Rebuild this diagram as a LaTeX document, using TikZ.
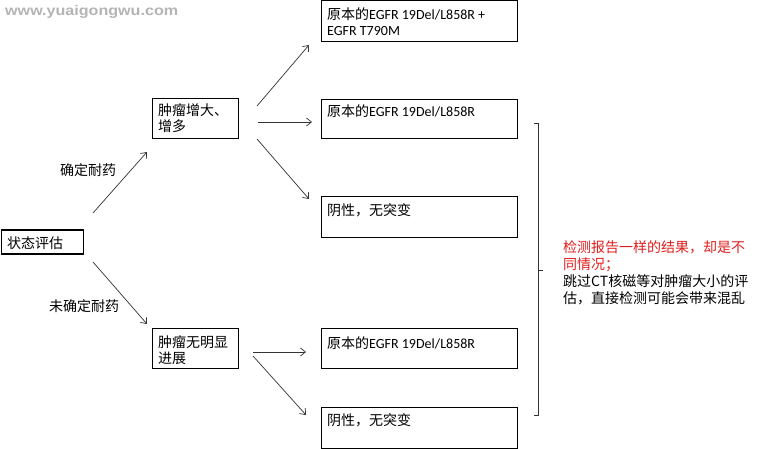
\documentclass[tikz,border=0pt]{standalone}
\usepackage{fontspec}
\setmainfont{Noto Sans CJK SC}
\newfontfamily\wmfont{Liberation Sans Bold}
\newfontfamily\latn{Carlito}
\usetikzlibrary{arrows.meta}
\definecolor{redtxt}{RGB}{225,30,30}
\definecolor{wmgray}{RGB}{180,180,180}
\begin{document}
\begin{tikzpicture}[x=1pt,y=-1pt,
  box/.style={draw=black, line width=0.8pt, inner sep=0pt, anchor=north west},
  txt/.style={inner sep=0pt, anchor=north west, align=left, font=\fontsize{14}{16.5}\selectfont},
  arr/.style={draw=black!80, line width=0.7pt, -{Straight Barb[length=5pt,width=8pt]}},
  brace/.style={draw=black!80, line width=0.7pt}]
\useasboundingbox (0,0) rectangle (761,449);
% watermark
\node[inner sep=0pt, anchor=west, text=wmgray] (wm) at (5,11.5)
  {\scalebox{1.15}[1]{\wmfont\fontsize{14}{14}\selectfont www.yuaigongwu.com}};
% boxes
\node[box, line width=1.6pt, minimum width=82pt, minimum height=24pt] (s) at (0.8,229) {};
\node[box, minimum width=86pt, minimum height=40pt] (m1) at (152,98) {};
\node[box, minimum width=86pt, minimum height=40pt] (m2) at (152,328) {};
\node[box, minimum width=196pt, minimum height=40.5pt] (r1) at (321,0.5) {};
\node[box, minimum width=196pt, minimum height=39pt] (r2) at (321,99) {};
\node[box, minimum width=196pt, minimum height=41pt] (r3) at (321,196) {};
\node[box, minimum width=196pt, minimum height=40pt] (r4) at (321,328) {};
\node[box, minimum width=196pt, minimum height=41pt] (r5) at (321,407) {};
% box texts
\node[txt] (st) at (7,236) {状态评估};
\node[txt] (m1t) at (158,103) {肿瘤增大、\\增多};
\node[txt] (m2t) at (158,335) {肿瘤无明显\\进展};
\node[txt] (r1t) at (327,7) {原本的{\latn EGFR 19Del/L858R +}\\{\latn EGFR T790M}};
\node[txt] (r2t) at (327,104) {原本的{\latn EGFR 19Del/L858R}};
\node[txt] (r3t) at (327,203) {阴性，无突变};
\node[txt] (r4t) at (327,336) {原本的{\latn EGFR 19Del/L858R}};
\node[txt] (r5t) at (327,413) {阴性，无突变};
% labels
\node[txt] (l1) at (60,163) {确定耐药};
\node[txt] (l2) at (49,299) {未确定耐药};
% arrows
\coordinate (a1s) at (93,213); \coordinate (a1e) at (147,152);
\coordinate (a2s) at (93,262); \coordinate (a2e) at (147,324);
\coordinate (b1s) at (257,106); \coordinate (b1e) at (309,45);
\coordinate (b2s) at (258,122); \coordinate (b2e) at (312,122);
\coordinate (b3s) at (257,139); \coordinate (b3e) at (309,199);
\coordinate (c1s) at (253,352); \coordinate (c1e) at (306,352);
\coordinate (c2s) at (253,356); \coordinate (c2e) at (306,415);
\draw[arr] (a1s) -- (a1e);
\draw[arr] (a2s) -- (a2e);
\draw[arr] (b1s) -- (b1e);
\draw[arr] (b2s) -- (b2e);
\draw[arr] (b3s) -- (b3e);
\draw[arr] (c1s) -- (c1e);
\draw[arr] (c2s) -- (c2e);
% brace
\coordinate (bt) at (538,123); \coordinate (bb) at (538,415); \coordinate (bm) at (538,270);
\draw[brace] ([xshift=-4pt]bt) -- (bt) -- (bb) -- ([xshift=-4pt]bb);
\draw[brace] (bm) -- ([xshift=5pt]bm);
% note
\node[txt, font=\fontsize{14}{17}\selectfont] (note) at (563,240)
  {\textcolor{redtxt}{检测报告一样的结果，却是不}\\\textcolor{redtxt}{同情况；}\\跳过CT核磁等对肿瘤大小的评\\估，直接检测可能会带来混乱};
\end{tikzpicture}
\end{document}
